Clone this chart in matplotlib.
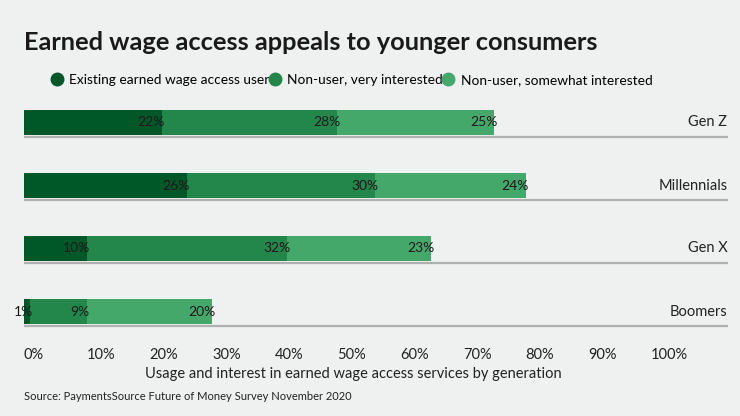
import matplotlib.pyplot as plt
from matplotlib.lines import Line2D

plt.rcParams['font.family'] = ['Lato', 'DejaVu Sans']

# Dane
generations = ["Gen Z", "Millennials", "Gen X", "Boomers"]
series_names = ["Existing earned wage access user",
                "Non-user, very interested",
                "Non-user, somewhat interested"]
existing_user = [22, 26, 10, 1]
very_interested = [28, 30, 32, 9]
somewhat_interested = [25, 24, 23, 20]
tick_values = [0, 10, 20, 30, 40, 50, 60, 70, 80, 90, 100]

colors = ["#005727", "#23864b", "#44a86a"]
bg = "#eff0f0"

fig = plt.figure(figsize=(7.4, 4.16), dpi=100, facecolor=bg)
ax = fig.add_axes([24 / 740, 1 - 340 / 416, 704 / 740, 245 / 416], facecolor=bg)

bar_h = 0.4
ys = list(range(len(generations)))
left = [0] * len(generations)
for vals, col in zip([existing_user, very_interested, somewhat_interested], colors):
    ax.barh(ys, vals, left=left, height=bar_h, color=col, edgecolor="none")
    for y, l, v in zip(ys, left, vals):
        ax.text(l + v + 0.5, y, f"{v}%", ha="right", va="center",
                fontsize=10, color="#1a1a1a")
    left = [l + v for l, v in zip(left, vals)]

# linie pod słupkami i etykiety kategorii
for y, name in zip(ys, generations):
    ax.plot([0, 112.3], [y + bar_h / 2 + 0.035] * 2, color="#b0b0b0", lw=1.6,
            solid_capstyle="butt")
    ax.text(112.2, y, name, ha="right", va="center", fontsize=10.5, color="#222222")

ax.set_xlim(0, 112.3)
ax.set_ylim(3 + 28.5 / 63, -27.5 / 63)
ax.set_xticks(tick_values)
ax.set_xticklabels([f"{t}%" for t in tick_values], ha="left", fontsize=10.5,
                   color="#222222")
ax.tick_params(axis="x", length=0, pad=6)
ax.set_yticks([])
for s in ax.spines.values():
    s.set_visible(False)

fig.text(24 / 740, 1 - 42 / 416, "Earned wage access appeals to younger consumers",
         fontsize=18.3, fontweight="bold", color="#1a1a1a", va="center")
fig.text(353 / 740, 1 - 374 / 416,
         "Usage and interest in earned wage access services by generation",
         fontsize=10.5, color="#222222", ha="center", va="center")
fig.text(24 / 740, 1 - 397 / 416, "Source: PaymentsSource Future of Money Survey November 2020",
         fontsize=8, color="#222222", va="center")

handles = [Line2D([], [], marker="o", ls="none", color=c, markersize=9) for c in colors]
fig.legend(handles, series_names, loc="center left", bbox_to_anchor=(51 / 740, 1 - 80 / 416),
           ncol=3, frameon=False, fontsize=9.9, handlelength=0.8, handletextpad=0.5,
           columnspacing=0.0, borderaxespad=0, borderpad=0)

fig.savefig("out.png", dpi=100, facecolor=bg)
